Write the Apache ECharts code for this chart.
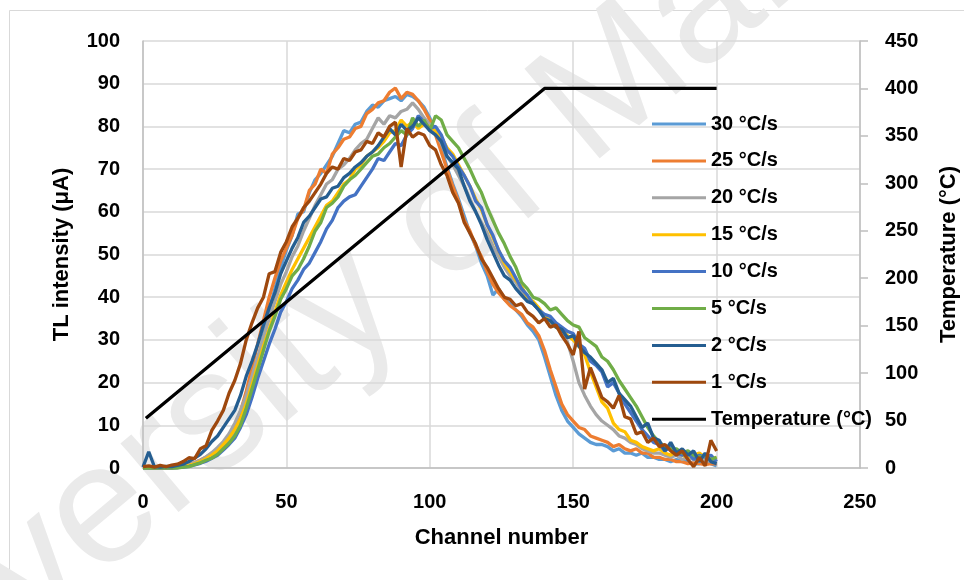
<!DOCTYPE html>
<html>
<head>
<meta charset="utf-8">
<script src="https://cdn.jsdelivr.net/npm/echarts@6/dist/echarts.min.js"></script>
<style>html,body{margin:0;padding:0;background:#fff;}#chart{width:964px;height:580px;}</style>
</head>
<body>
<div id="chart"></div>
<script>
var channels = [0,2,4,6,8,10,12,14,16,18,20,22,24,26,28,30,32,34,36,38,40,42,44,46,48,50,52,54,56,58,60,62,64,66,68,70,72,74,76,78,80,82,84,86,88,90,92,94,96,98,100,102,104,106,108,110,112,114,116,118,120,122,124,126,128,130,132,134,136,138,140,142,144,146,148,150,152,154,156,158,160,162,164,166,168,170,172,174,176,178,180,182,184,186,188,190,192,194,196,198,200];

var rate30 = [0,0,0,0,0,0,0.1,0.3,0.5,0.9,
1.4,2,2.8,3.6,4.6,6,8,11,15,19.5,
25,31,37,42,47,51,54.5,59.5,60,64.5,
67.5,69,71,73,76,79,78.5,80.5,81,83.5,
85,84.5,86,86.5,87,86,87.5,87,86,84.5,
82,78.5,75,70.5,66.5,63,59,55,52,48,
45,40.5,42,39.5,38.5,37,35.5,33.5,32,30,
26,21.5,17,13.5,11,9.5,8,7,6,5.5,
5.5,5,4,4.5,3.5,3.5,3,3.5,2.5,2.5,
2,2,1.5,2,1.5,1.5,1,1,1.5,1,
0.5];
var rate25 = [0.2,0.1,0,0.2,0.1,0.2,0.3,0.5,0.8,1.3,
1.9,2.6,3.4,4.2,5.2,7.2,10,13.2,18,23.5,
29,34.5,40,44.5,48.5,51.5,54.5,58.5,60.5,65,
66.5,70,69,73.5,75,77,77.5,79.5,80,83,
84,85.5,86,88,89,86.5,88,87.5,86,84,
81.5,78,74,70,66,62.5,58,55.5,52,49.5,
46,43,41,39.5,38,37,36,34,33,31,
27.5,23,19,15,12.5,11,9.5,9,7.5,7,
6.5,6,5,5.5,4.5,4,4.5,3.5,3.5,2.5,
2.5,2,2,1.5,1.5,1,1.2,1,0.8,1,
1];
var rate20 = [0,0,0,0,0,0.1,0.2,0.4,0.8,1.2,
1.8,2.6,3.6,4.8,6.2,8,10.5,13.5,17,21.5,
26,30.5,35,39,43,46,49.5,52,55.5,58.5,
61.5,64,66.5,67.5,70,71,72.5,74.5,76,77,
79.5,82,80.5,82.5,82,83.5,84,85.5,84,82,
80.5,78.5,76,73,71,68.5,66,63,60,57.5,
55,52,49.5,47,45,43.5,41.5,40,38.5,37,
35.5,34,33,32,29.5,25,20,17,14.5,12.5,
11,10,9,7.5,7,6,5.5,4.5,4,3.5,
3.5,3,2.5,3,2,2.5,2,1.5,2,1.5,
1.5];
var rate15 = [0,0,0,0,0,0,0.1,0.3,0.6,1,
1.5,2.2,3,4,5.5,7,9,11.5,15,19.5,
24,28.5,32.5,36.5,40.5,43.5,46.5,49,51.5,54,
56.5,59,61.5,62.5,64.5,66.5,67.5,70,71,73,
74,75,76.5,78.5,79,81.5,80,81,79.5,80.5,
80,79,77.5,75,73.5,71,68.5,66,63,60.5,
57,54,51,48,46,44,42.5,40,39,37.5,
35.5,34.5,33,32.5,31,30,28.5,26.5,22.5,19,
15.5,14,10.5,9,8.5,6.5,6,5,4.5,4,
4.5,3.5,3,4,3,2.5,3,3.5,2.5,2,
2.5];
var rate10 = [0,0,0,0,0,0,0.1,0.2,0.4,0.7,
1.1,1.6,2.3,3,4.2,5.5,7,9.5,12.5,16.5,
21,25,29,32.5,36.5,39,42,44,46.5,48,
50.5,53,56,58,61,62.5,63.5,64,66,68,
70,72.5,72,74,76,75.5,78,79.5,82.5,81,
79.5,80,78,74.5,73,70.5,68.5,66,62.5,61,
57,54.5,51,48.5,47,44.5,42,40.5,38.5,37,
36,35.5,34,33,32,31.5,29,28,25,24,
22.5,19,20,17.5,15,13,11,9,7.5,6,
5.5,4,5,3.5,3,3.5,2,3,2.5,3,
1.5];
var rate5 = [0,0,0,0,0,0,0,0.2,0.3,0.8,
1.2,1.8,2.3,3.2,4.5,5.8,7.5,10,14,18.5,
23,27.5,32,35.5,39.5,42,45,46.5,49,52,
55.5,57.5,61,62,63.5,66,67.5,68.5,70,71.5,
73,73.5,75,76,77.5,79,78,82,80,81.5,
79,82.5,81.5,78,76.5,75,72.5,70,67,64.5,
61,58,55,52.5,49.5,47,43.5,42,40,39.5,
38.5,37,37.5,36,34.5,33.5,33,30.5,29.5,28.5,
26,25,23,20.5,18.5,16.5,14.5,12,9.5,7.5,
6,5,4.5,4.5,3.5,4,3,2.5,3,2,
2.5];
var rate2 = [0.2,3.8,0.3,0.2,0.4,0.3,0.6,0.9,1.5,2.3,
3.2,4.5,6.2,7.5,9.5,11.5,13.5,17,21.5,25,
29,33.5,37.5,41,45.5,48.5,51.5,54,57.5,59,
61,63,63.5,65.5,66,68,69,70.5,71.5,73,
74,75.5,77.5,79.5,78,80.5,79,80,82,80.5,
79,78,76.5,73,71.5,70,66,62.5,60,57,
53.5,50.5,47.5,45,44,42,40.5,39,38.5,37,
35,34.5,33,32.5,30.5,31,28.5,27,26,24.5,
23,20,21,17.5,16,14.5,12,9.5,10.5,7,
6.5,4,6,3.5,4.5,3,4,1.5,3.5,1.5,
1];
var rate1 = [0.3,0.5,0.2,0.6,0.3,0.7,0.9,1.5,2.4,2.2,
4.5,5.2,8.8,11,13.5,17.5,20.5,24.5,30,34,
37.5,40,45.5,46,50.5,53,56.5,58.5,61,62.5,
64.5,66.5,69,70.5,70,72.5,72,74,74.5,76.5,
76,78.5,77.5,80,81,70.5,79.5,77.5,78.5,78,
75.5,74.5,71,68.5,64.5,62,57.5,55,52.5,49,
47,44.5,42,40,39.5,38,38.5,36.5,35.5,34,
35,33,33.5,31,29,26.5,32,18.5,23.5,20,
16.5,15.5,14,17,12,11.5,8,8.5,6,7,
5,5.5,4,3,4,2,0.3,2.5,0.5,6.5,
4];

var tempChannels = [1,140,200];
var tempValues = [52.5,400,400];

var seriesNames = ['30 °C/s','25 °C/s','20 °C/s','15 °C/s','10 °C/s','5 °C/s','2 °C/s','1 °C/s'];
var seriesData = [rate30,rate25,rate20,rate15,rate10,rate5,rate2,rate1];
var seriesColors = ['#5B9BD5','#ED7D31','#A5A5A5','#FFC000','#4472C4','#70AD47','#255E91','#9E480E'];

var FONT = '"Liberation Sans", Arial, sans-serif';

function pairs(xs, ys){ return xs.map(function(x,i){ return [x, ys[i]]; }); }

var series = seriesNames.map(function(n,i){
  return {
    name: n, type: 'line', yAxisIndex: 0, showSymbol: false, symbol: 'none',
    data: pairs(channels, seriesData[i]),
    lineStyle: {color: seriesColors[i], width: 3.3},
    itemStyle: {color: seriesColors[i]},
    animation: false
  };
});
series.push({
  name: 'Temperature (°C)', type: 'line', yAxisIndex: 1, showSymbol: false, symbol: 'none',
  data: pairs(tempChannels, tempValues),
  lineStyle: {color: '#000', width: 3.3},
  itemStyle: {color: '#000'},
  animation: false
});

var chart = echarts.init(document.getElementById('chart'));
chart.setOption({
  backgroundColor: '#fff',
  animation: false,
  graphic: [
    {type: 'rect', z: -20, shape: {x: 9.5, y: 10.5, width: 1000, height: 1000},
     style: {fill: 'none', stroke: '#d9d9d9', lineWidth: 1}},
    {type: 'text', z: -10, x: -139, y: 828, rotation: 40 * Math.PI / 180,
     style: {text: 'University of Malaya', font: '170px "Liberation Sans", Arial, sans-serif',
             fill: '#eaeaea', textAlign: 'left', textVerticalAlign: 'bottom'}}
  ],
  grid: {left: 143, right: 104, top: 41, bottom: 112, containLabel: false, outerBoundsMode: 'none'},
  legend: {
    orient: 'vertical', left: 652, top: 114, padding: 0,
    icon: 'rect', itemWidth: 54, itemHeight: 3, itemGap: 16.9,
    textStyle: {fontFamily: FONT, fontWeight: 'bold', fontSize: 20, color: '#000', lineHeight: 20},
    data: seriesNames.concat(['Temperature (°C)'])
  },
  xAxis: {
    type: 'value', min: 0, max: 250, interval: 50,
    name: 'Channel number', nameLocation: 'middle', nameGap: 59,
    nameTextStyle: {fontFamily: FONT, fontWeight: 'bold', fontSize: 22, color: '#000'},
    axisLine: {show: true, lineStyle: {color: '#bfbfbf', width: 1.5}},
    axisTick: {show: false},
    axisLabel: {fontFamily: FONT, fontWeight: 'bold', fontSize: 20, color: '#000', margin: 24},
    splitLine: {show: true, lineStyle: {color: '#d9d9d9', width: 1.5}}
  },
  yAxis: [
    {
      type: 'value', min: 0, max: 100, interval: 10, position: 'left',
      name: 'TL intensity (μA)', nameLocation: 'middle', nameGap: 70,
      nameTextStyle: {fontFamily: FONT, fontWeight: 'bold', fontSize: 22, color: '#000'},
      axisLine: {show: true, lineStyle: {color: '#bfbfbf', width: 1.5}},
      axisTick: {show: false},
      axisLabel: {fontFamily: FONT, fontWeight: 'bold', fontSize: 20, color: '#000', margin: 23},
      splitLine: {show: true, lineStyle: {color: '#d9d9d9', width: 1.5}}
    },
    {
      type: 'value', min: 0, max: 450, interval: 50, position: 'right',
      name: 'Temperature (°C)', nameLocation: 'middle', nameGap: 78, nameRotate: 90,
      nameTextStyle: {fontFamily: FONT, fontWeight: 'bold', fontSize: 22, color: '#000'},
      axisLine: {show: true, lineStyle: {color: '#bfbfbf', width: 1.5}},
      axisTick: {show: true, inside: false, length: 8, lineStyle: {color: '#bfbfbf', width: 1.5}},
      axisLabel: {fontFamily: FONT, fontWeight: 'bold', fontSize: 20, color: '#000', margin: 25},
      splitLine: {show: false}
    }
  ],
  series: series
});
</script>
</body>
</html>
